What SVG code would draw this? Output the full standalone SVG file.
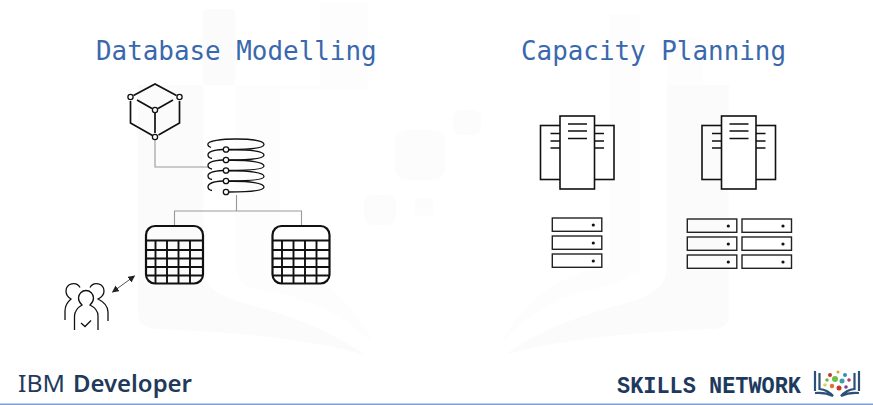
<svg xmlns="http://www.w3.org/2000/svg" width="873" height="405" viewBox="0 0 873 405">
<style>
.title{font-family:"DejaVu Sans Mono","Liberation Mono",monospace;font-size:25.900px;fill:#3a68ad}
.ln{fill:none;stroke:#111;stroke-width:1.700}
.thin{fill:none;stroke:#111;stroke-width:1.300}
.box{fill:none;stroke:#111;stroke-width:1.600}
.rack{fill:none;stroke:#222;stroke-width:1.400}
.conn{fill:none;stroke:#999;stroke-width:1.100}
.node{fill:#fff;stroke:#111;stroke-width:1.300}
.wm{fill:#fbfbfc}
</style>
<defs>
<marker id="ah" viewBox="0 0 10 10" refX="9" refY="5" markerWidth="7" markerHeight="7" orient="auto-start-reverse"><path d="M0 0L10 5L0 10Z" fill="#222"/></marker>
<g id="table">
<rect x="0" y="0" width="57" height="57.500" rx="9" fill="none" stroke="#111" stroke-width="2.200"/>
<path d="M0 14.500H57M0 24H57M0 32.500H57M0 41H57M0 49.500H57M9.500 14.500V57M21 14.500V57M32.500 14.500V57M44 14.500V57" fill="none" stroke="#111" stroke-width="1.900"/>
</g>
<g id="tower">
<rect x="0" y="9.500" width="73.500" height="54" fill="#fff" class="box"/>
<path d="M10 17.500H19.500M10 25H19.500M10 32H19.500M53.500 17.500H63.500M53.500 25H63.500M53.500 32H63.500" class="ln"/>
<rect x="19.500" y="0" width="34.500" height="73" fill="#fff" stroke="#111" stroke-width="1.600"/>
<path d="M27.500 8H46.500M27.500 15H46.500M27.500 22.500H46.500" class="ln"/>
</g>
<g id="rack">
<rect x="0" y="0" width="49.500" height="13.300" class="rack"/>
<circle cx="41" cy="7" r="1.600" fill="#111"/>
</g>
</defs>
<rect width="873" height="405" fill="#fff"/>
<g id="watermark">
<path class="wm" d="M203 12Q203 9 208 9H232Q235 9 235 12V85H203Z"/>
<path class="wm" d="M138 85H203V270Q205 292 240 302Q320 322 365 355Q300 335 160 329Q139 329 138 315Z"/>
<path class="wm" d="M235 85H320V3H368V90H280V265Q340 278 375 345Q330 298 250 288Q235 282 235 260Z" opacity=".5"/>
<path class="wm" d="M729 85H667V270Q665 292 630 302Q550 322 505 355Q570 335 710 329Q729 329 729 315Z"/>
<path class="wm" d="M610 14H640V85H667V37H703V85H640V270Q620 282 600 288Q540 298 500 345Q535 278 610 265Z" opacity=".5"/>
<g fill="#fcfcfc"><rect x="395" y="130" width="50" height="50" rx="12"/><rect x="453" y="110" width="28" height="25" rx="8"/><rect x="364" y="195" width="32" height="30" rx="8"/><rect x="415" y="198" width="18" height="18" rx="5"/></g>
</g>
<g id="title-database"><text class="title" x="96" y="60">Database Modelling</text></g>
<g id="title-capacity"><text class="title" x="521" y="60">Capacity Planning</text></g>
<g id="connectors">
<path class="conn" d="M155 137V167H208"/>
<path class="conn" d="M236.500 195V211M174.500 226V211H301.500V226"/>
<path d="M112.500 292L134.500 276" fill="none" stroke="#555" stroke-width="1" marker-start="url(#ah)" marker-end="url(#ah)"/>
</g>
<g id="node-cube">
<path class="ln" d="M133.500 95.500L155 84L176.500 95.500M130.500 101V123L152.500 135.500M158.500 135L179.500 123V101M137 100L152 108.500M158 108.500L173 100M155 113V133"/>
<circle class="node" cx="130.500" cy="97" r="2.600"/><circle class="node" cx="179.500" cy="97" r="2.600"/><circle class="node" cx="155" cy="110" r="2.600"/><circle class="node" cx="155" cy="137" r="2.600"/>
</g>
<g id="node-coil">
<path class="thin" d="M211 147.500C207 146 208 144 208 144C208 141 221 139 236 139C252 139 264 141 264 144.500C264 148 250 149.500 229 149.500"/>
<path class="thin" d="M223 149.500C212 150 208 152 208 155C208 156.500 209 158 212 158.500M229 149.800C250 149.500 264 151 264 155C264 158.500 250 160 229 160"/>
<path class="thin" d="M223 160C212 160.500 208 162.500 208 165.500C208 167 209 168.500 212 169M229 160.300C250 160 264 162 264 166C264 169.500 250 170.500 229 170.500"/>
<path class="thin" d="M223 170.500C212 171 208 173.500 208 176C208 177.500 209 179 212 179.500M229 170.800C250 170.500 264 173 264 176.500C264 180 250 181 229 181"/>
<path class="thin" d="M223 181C212 181.500 208 184 208 187C208 188.500 209 190 212 190.500M229 181.300C250 181 264 183 264 187C264 190.500 250 192 229 192"/>
<circle class="node" cx="226" cy="149.500" r="2.700"/><circle class="node" cx="226" cy="160" r="2.700"/><circle class="node" cx="226" cy="170.500" r="2.700"/><circle class="node" cx="226" cy="181" r="2.700"/><circle class="node" cx="226" cy="192" r="2.700"/>
</g>
<g id="node-table-1"><use href="#table" x="146" y="226"/></g>
<g id="node-table-2"><use href="#table" x="272.500" y="226"/></g>
<g id="node-users">
<path class="thin" d="M65 320V311Q65 304 71 299Q66 296 66 291A7.500 7.500 0 0 1 80 287.500M90 287.500A7.500 7.500 0 0 1 104 291Q104 296 98 299Q108 304 108 312V321"/>
<path class="thin" d="M74.500 330V316Q75 309 82 305Q78.500 302 78.500 298A7.500 7.500 0 0 1 93.500 298Q93.500 302 90 305Q98 309 98 316V330"/>
<path class="thin" d="M81 323L85 326.500L91 320.500"/>
</g>
<g id="node-server-1"><use href="#tower" x="540.500" y="116"/></g>
<g id="node-server-2"><use href="#tower" x="702" y="116"/></g>
<g id="node-racks-1"><use href="#rack" x="552.300" y="218"/><use href="#rack" x="552.300" y="236"/><use href="#rack" x="552.300" y="254"/></g>
<g id="node-racks-2"><use href="#rack" x="687.300" y="219"/><use href="#rack" x="687.300" y="237"/><use href="#rack" x="687.300" y="255"/><use href="#rack" x="742" y="219"/><use href="#rack" x="742" y="237"/><use href="#rack" x="742" y="255"/></g>
<g id="ibm-developer"><text y="392" font-family="Noto Sans,Open Sans,sans-serif" font-size="24" fill="#1f3a5c"><tspan x="18" font-weight="400" textLength="47" lengthAdjust="spacingAndGlyphs">IBM</tspan><tspan x="73" font-weight="600" textLength="119" lengthAdjust="spacingAndGlyphs">Developer</tspan></text></g>
<g id="skills-network"><text x="617" y="393" font-family="Liberation Mono,monospace" font-size="24" font-weight="700" fill="#1d3a5e" textLength="184" lengthAdjust="spacingAndGlyphs">SKILLS NETWORK</text>
<path d="M815 371V391M819.500 373V389Q828 390 833 396Q825 392 815 393M859 371V391M854.500 373V389Q846 390 841 396Q849 392 859 393" fill="none" stroke="#2c5077" stroke-width="2.200"/>
<g><circle cx="830" cy="375" r="2" fill="#c0392b"/><circle cx="838" cy="372" r="1.500" fill="#e0a030"/><circle cx="845" cy="375" r="2" fill="#2f8fc0"/><circle cx="827" cy="380" r="1.800" fill="#7cb342"/><circle cx="835" cy="379" r="3" fill="#6cbf4b"/><circle cx="842" cy="381" r="2.500" fill="#3aa0a0"/><circle cx="849" cy="380" r="1.800" fill="#b03a70"/><circle cx="825" cy="385" r="1.800" fill="#d8d070"/><circle cx="832" cy="386" r="2.200" fill="#e07030"/><circle cx="839" cy="388" r="2.500" fill="#c0392b"/><circle cx="846" cy="387" r="1.800" fill="#7a3f98"/></g>
</g>
<rect id="bottom-line" x="0" y="403.500" width="873" height="1.500" fill="#7f9fd8"/>
</svg>
